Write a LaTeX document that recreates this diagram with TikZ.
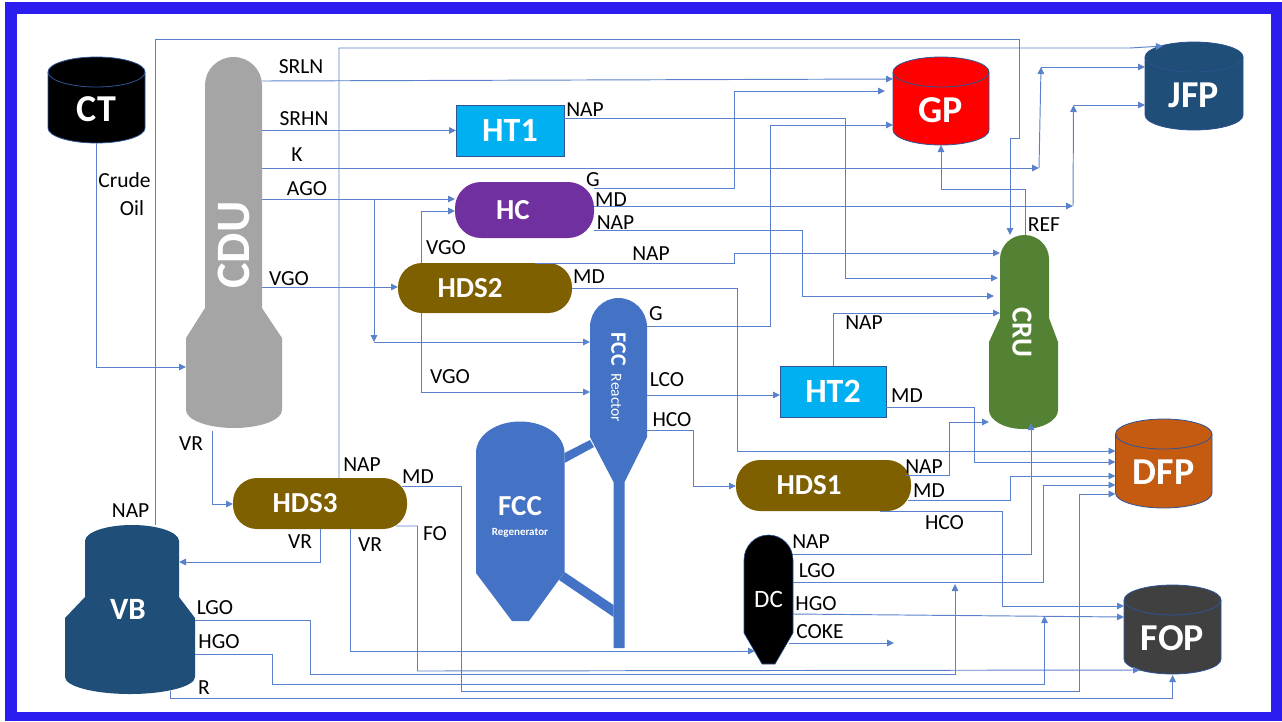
\documentclass[tikz,border=0pt]{standalone}
\usepackage{fontspec}
\usepackage{graphicx}
\setmainfont{Carlito}
\usetikzlibrary{arrows.meta}
\definecolor{framec}{HTML}{2B1CF0}
\definecolor{flowc}{HTML}{5A82CC}
\definecolor{rimc}{HTML}{2F5597}
\definecolor{cdugrey}{HTML}{A5A5A5}
\definecolor{htblue}{HTML}{00B0F0}
\definecolor{hcpurple}{HTML}{7030A0}
\definecolor{hdsbrown}{HTML}{7F6000}
\definecolor{crugreen}{HTML}{548235}
\definecolor{fccblue}{HTML}{4472C4}
\definecolor{navy}{HTML}{1F4E79}
\definecolor{dfporange}{HTML}{C55A11}
\definecolor{fopgrey}{HTML}{404040}
\newcommand\fz[1]{\fontsize{#1}{#1}\selectfont}
\newcommand\lowered[2]{\raisebox{-#1}{\smash{#2}}}
\tikzset{
  flow/.style={draw=flowc,line width=0.95pt},
  arr/.style={-{Triangle[length=7pt,width=6.5pt]}},
  unitbox/.style={inner sep=0pt,outer sep=0pt,text=white},
  capsule/.style={unitbox,fill=#1,rounded corners=24pt},
  boxunit/.style={unitbox,fill=htblue,draw=rimc,line width=0.9pt},
  lbl/.style={inner sep=0pt,text=black,font=\fz{21.5}}
}
% name, x0, x1, ytop, ybot, fill, rim, text
\newcommand\tank[8]{%
  \pgfmathsetmacro\tkmid{(#2+#3)/2}
  \pgfmathsetmacro\tkk{(#3-#2)/2*0.55}
  \pgfmathsetmacro\tkL{\tkmid-\tkk}
  \pgfmathsetmacro\tkR{\tkmid+\tkk}
  \pgfmathsetmacro\tkA{#4+15}
  \pgfmathsetmacro\tkAu{#4+6.75}
  \pgfmathsetmacro\tkAd{#4+23.25}
  \pgfmathsetmacro\tkAb{#4+30}
  \pgfmathsetmacro\tkB{#5-15}
  \pgfmathsetmacro\tkBd{#5-6.75}
  \path[fill=#6,draw=#7,line width=0.8pt]
    (#2,\tkA) .. controls (#2,\tkAu) and (\tkL,#4) .. (\tkmid,#4)
    .. controls (\tkR,#4) and (#3,\tkAu) .. (#3,\tkA)
    -- (#3,\tkB) .. controls (#3,\tkBd) and (\tkR,#5) .. (\tkmid,#5)
    .. controls (\tkL,#5) and (#2,\tkBd) .. (#2,\tkB) -- cycle;
  \draw[#7,line width=0.8pt] (#2,\tkA) .. controls (#2,\tkAd) and (\tkL,\tkAb) .. (\tkmid,\tkAb)
    .. controls (\tkR,\tkAb) and (#3,\tkAd) .. (#3,\tkA);
  \pgfmathsetmacro\tkw{#3-#2}
  \pgfmathsetmacro\tkh{#5-#4}
  \pgfmathsetmacro\tkc{(#4+#5)/2}
  \node[unitbox,minimum width=\tkw pt,minimum height=\tkh pt] (#1) at (\tkmid,\tkc)
    {\fz{38}\bfseries\lowered{42pt}{#8}};
}
% x0, x1, ytop, rytop, yshoulder, xw0, xw1, ywide, ybot, rybot, fill
\newcommand\tower[9]{%
  \pgfmathsetmacro\twmid{(#1+#2)/2}
  \pgfmathsetmacro\twk{(#2-#1)/2*0.55}
  \pgfmathsetmacro\twL{\twmid-\twk}
  \pgfmathsetmacro\twR{\twmid+\twk}
  \pgfmathsetmacro\twT{#3+#4}
  \pgfmathsetmacro\twTc{#3+#4*0.45}
  \def\twA{#1}\def\twB{#2}\def\twC{#3}\def\twD{#5}\def\twE{#6}\def\twF{#7}\def\twG{#8}\def\twH{#9}%
  \towerc
}
\newcommand\towerc[2]{%
  \pgfmathsetmacro\twmidw{(\twE+\twF)/2}
  \pgfmathsetmacro\twkw{(\twF-\twE)/2*0.55}
  \pgfmathsetmacro\twLw{\twmidw-\twkw}
  \pgfmathsetmacro\twRw{\twmidw+\twkw}
  \pgfmathsetmacro\twBt{\twH-#1}
  \pgfmathsetmacro\twBc{\twH-#1*0.45}
  \fill[#2] (\twA,\twT) .. controls (\twA,\twTc) and (\twL,\twC) .. (\twmid,\twC)
    .. controls (\twR,\twC) and (\twB,\twTc) .. (\twB,\twT)
    -- (\twB,\twD) -- (\twF,\twG) -- (\twF,\twBt)
    .. controls (\twF,\twBc) and (\twRw,\twH) .. (\twmidw,\twH)
    .. controls (\twLw,\twH) and (\twE,\twBc) .. (\twE,\twBt)
    -- (\twE,\twG) -- (\twA,\twD) -- cycle;
}
\begin{document}
\begin{tikzpicture}[x=1pt,y=-1pt]
\useasboundingbox (0,0) rectangle (1282,721);
\fill[white] (0,0) rectangle (1282,721);
\fill[framec] (5,2) rectangle (1282,721);
\fill[white] (17,14) rectangle (1271,712);

% ---------- tanks
\tank{ct}{48}{145}{57}{143}{black}{rimc}{CT}
\tank{gp}{893}{989}{57}{145}{red}{rimc}{GP}
\tank{jfp}{1145}{1243}{42}{130}{navy}{rimc!70!navy}{JFP}
\tank{dfp}{1115.5}{1212}{419}{508}{dfporange}{rimc}{DFP}
\tank{fop}{1124}{1221}{585}{674}{fopgrey}{rimc}{FOP}

% ---------- towers (bodies, then a box with the name)
\tower{205}{262}{57}{28}{308}{186}{282}{338}{428}{18}{cdugrey}
\node[unitbox,minimum width=57pt,minimum height=371pt] (cdu) at (233.5,245)
  {\rotatebox[origin=c]{90}{\fz{48}\bfseries CDU}};
\tower{1000}{1049}{235}{24}{318}{989}{1058}{342}{429}{19}{crugreen}
\node[unitbox,minimum width=49pt,minimum height=194pt] (cru) at (1022,332)
  {\rotatebox[origin=c]{-90}{\fz{29}\bfseries CRU}};
\tower{85}{179}{525}{16}{597}{65}{195}{618}{694}{17}{navy}
\node[unitbox,minimum width=134pt,minimum height=169pt] (vb) at (128,609.5)
  {\fz{31}\bfseries VB};

% ---------- FCC reactor and regenerator
\fill[fccblue] (564.5,453) -- (590,440) -- (594,447) -- (564.5,463) -- cycle;
\fill[fccblue] (564.5,572) -- (613.5,605) -- (613.5,617) -- (559,580) -- cycle;
\fill[fccblue] (590,327) .. controls (590,311) and (603,298) .. (618.5,298)
  .. controls (634,298) and (647,311) .. (647,327)
  -- (647,437) -- (624.5,482) -- (624.5,648) -- (613.5,648) -- (613.5,482) -- (590,437) -- cycle;
\node[unitbox,minimum width=57pt,minimum height=160pt] (fccr) at (618.5,377.5)
  {\rotatebox[origin=c]{-90}{\fz{22}\bfseries FCC\hspace{8pt}\fz{15.5}\mdseries Reactor}};
\fill[fccblue] (476,453) .. controls (476,435) and (496,421.5) .. (520,421.5)
  .. controls (544,421.5) and (564.5,435) .. (564.5,453)
  -- (564.5,572) -- (529,621) -- (512,621) -- (476,573) -- cycle;
\node[unitbox,minimum width=88pt,minimum height=200pt,align=center] (fccg) at (520,517)
  {\fz{29}\bfseries FCC\\[8pt]\fz{11}\bfseries Regenerator};

% ---------- delayed coker
\path[fill=black,draw=rimc,line width=0.6pt] (744,560) .. controls (744,546) and (755,535) .. (768.5,535)
  .. controls (782,535) and (793,546) .. (793,560)
  -- (793,633) -- (775,664) -- (762,664) -- (744,633) -- cycle;
\node[unitbox,minimum width=49pt,minimum height=129pt] (dc) at (768.5,599.5) {\fz{25}DC};

% ---------- simple units
\node[boxunit,minimum width=108pt,minimum height=51pt] (hta) at (510,130.5) {\fz{34}\bfseries HT1};
\node[boxunit,minimum width=106pt,minimum height=51pt] (htb) at (833,391.5) {\fz{34}\bfseries HT2};
\node[capsule=hcpurple,rounded corners=26pt,minimum width=139pt,minimum height=56pt] (hc) at (524.5,210)
  {\hspace*{-23pt}\fz{29}\bfseries HC};
\node[capsule=hdsbrown,minimum width=174pt,minimum height=50pt] (hdsb) at (485,288)
  {\hspace*{-30pt}\fz{29}\bfseries HDS2};
\node[capsule=hdsbrown,minimum width=174pt,minimum height=51pt] (hdsc) at (320,503.5)
  {\hspace*{-30pt}\fz{29}\bfseries HDS3};
\node[capsule=hdsbrown,minimum width=175pt,minimum height=51pt] (hdsa) at (823.5,485.5)
  {\hspace*{-29pt}\fz{29}\bfseries HDS1};

% ---------- junction coordinates
\coordinate (cduwide) at (186,367);
\coordinate (vbneck) at (179,562);
\coordinate (kjoin) at (1039,168);
\coordinate (kup) at (1041,67);
\coordinate (mdjoin) at (1073,206);
\coordinate (mdup) at (1073.5,105);
\coordinate (agojoin) at (374,199);
\coordinate (agodown) at (374,342);
\coordinate (jfpin) at (1163,46);

% ---------- connectors
\draw[flow,arr] (ct.south) |- (cduwide);
\draw[flow,arr] (155,0 |- vb.north) -- (155,39) -- (1019.6,39) -- (1019.6,138) -- (1010,138) -- (1010,0 |- cru.north);
\draw[flow,arr] (339,0 |- hdsc.north) -- (339,48) -- (1130,48) -- (jfpin);
\draw[flow,arr] (cdu.east |- 0,81) -- (gp.west |- 0,79);
\draw[flow,arr] (cdu.east |- hta.west) -- (hta.west);
\draw[flow,arr] (hta.east |- 0,118) -- (845,118) -- (845,278) -- (998,278);
\draw[flow,arr] (cdu.east |- kjoin) -- (kjoin);
\draw[flow,arr] (kjoin) -- (kup);
\draw[flow,arr] (kup) -- (jfp.west |- kup);
\draw[flow,arr] (cdu.east |- agojoin) -- (hc.west |- agojoin);
\draw[flow,arr] (agojoin) -- (agodown);
\draw[flow,arr] (agodown) -- (fccr.west |- agodown);
\draw[flow,arr] (421.6,0 |- hdsb.north) -- (421.6,211) -- (hc.west |- 0,211);
\draw[flow,arr] (421.6,0 |- hdsb.south) -- (421.6,392) -- (fccr.west |- 0,392);
\draw[flow,arr] (cdu.east |- 0,287) -- (hdsb.west |- 0,287);
\draw[flow,arr] (hc.east |- 0,188) -- (734,188) -- (734,91) -- ([xshift=-8pt]gp.west |- 0,91);
\draw[flow,arr] (hc.east |- mdjoin) -- (mdjoin);
\draw[flow,arr] (mdjoin) -- (mdup);
\draw[flow,arr] (mdup) -- (jfp.west |- mdup);
\draw[flow,arr] (hc.east |- 0,230) -- (802.4,230) -- (802.4,296) -- (994,296);
\draw[flow,arr] (535,0 |- hdsb.north) -- (734,263) -- (734,253) -- (1000,253);
\draw[flow,arr] (hdsb.east) -- (737,288) -- (737,451) -- (dfp.west |- 0,451);
\draw[flow,arr] (fccr.east |- 0,326) -- (770.6,326) -- (770.6,125) -- (gp.west |- 0,125);
\draw[flow,arr] (1025,0 |- cru.north) -- (1025,189) -- (941,189) -- (gp.south);
\draw[flow,arr] (htb.north) -- (833,313) -- (1000,313);
\draw[flow,arr] (fccr.east |- 0,395) -- (htb.west |- 0,395);
\draw[flow,arr] (htb.east |- 0,407) -- (974,407) -- (974,462) -- (dfp.west |- 0,462);
\draw[flow,arr] (fccr.east |- 0,430) -- (693,430) -- (693,486) -- (hdsa.west |- 0,486);
\draw[flow,arr] ([xshift=-5pt]hdsa.east |- 0,475) -- (949,475) -- (949,422) -- (989,422);
\draw[flow,arr] ([xshift=-3pt]hdsa.east |- 0,500) -- (1010,500) -- (1010,476) -- (dfp.west |- 0,476);
\draw[flow,arr] (880,0 |- hdsa.south) -- (1002.4,511) -- (1002.4,606) -- (fop.west |- 0,606);
\draw[flow,arr] (dc.east |- 0,554) -- (1031,554) -- (1031,423);
\draw[flow,arr] (dc.east |- 0,582) -- (1043.7,582) -- (1043.7,485) -- (dfp.west |- 0,485);
\draw[flow,arr] (dc.east |- 0,614) -- (fop.west |- 0,617);
\coordinate (cokeend) at (894,643);
\draw[flow,arr] ([xshift=-4pt]dc.east |- cokeend) -- (cokeend);
\draw[flow,arr] (320,0 |- hdsc.south) -- (320,562) -- (vbneck);
\draw[flow,arr] (350,0 |- hdsc.south) -- (350,651) -- ([xshift=11pt]dc.west |- 0,651);
\draw[flow,arr] (396,526) -- (417.5,526) -- (417.5,671) -- (1140,670);
\draw[flow,arr] (402,486) -- (461,486) -- (461,691) -- (1079,691) -- (1079,494) -- (dfp.west |- 0,494);
\draw[flow,arr] (vb.east |- 0,620) -- (310.6,620) -- (310.6,674) -- (955,674) -- (955,584);
\draw[flow,arr] (vb.east |- 0,654) -- (272.6,654) -- (272.6,684) -- (1044.5,684) -- (1044.5,616);
\draw[flow,arr] (170,691) -- (170,698) -- (1172.6,698) -- (1172.6,675);
\draw[flow,arr] (212,0 |- cdu.south) -- (212,504) -- (hdsc.west |- 0,504);

% ---------- labels
\node[lbl] (t1) at (301,67) {SRLN};
\node[lbl] (t2) at (304,119) {SRHN};
\node[lbl] (t3) at (297,155) {K};
\node[lbl] (t4) at (307,189) {AGO};
\node[lbl] (t5) at (289,279) {VGO};
\node[lbl] (t6) at (124.5,180) {Crude};
\node[lbl] (t7) at (132,208) {Oil};
\node[lbl] (t8) at (585,110) {NAP};
\node[lbl] (t9) at (593,180) {G};
\node[lbl] (t10) at (611,200) {MD};
\node[lbl] (t11) at (615.5,223) {NAP};
\node[lbl] (t12) at (446,248) {VGO};
\node[lbl] (t13) at (651,254) {NAP};
\node[lbl] (t14) at (589,277) {MD};
\node[lbl] (t15) at (656,314) {G};
\node[lbl] (t16) at (864,323) {NAP};
\node[lbl] (t17) at (1044,225) {REF};
\node[lbl] (t18) at (450,377) {VGO};
\node[lbl] (t19) at (191,444) {VR};
\node[lbl] (t20) at (362,465) {NAP};
\node[lbl] (t21) at (418,477) {MD};
\node[lbl] (t22) at (130.6,511) {NAP};
\node[lbl] (t23) at (300,542) {VR};
\node[lbl] (t24) at (370,545) {VR};
\node[lbl] (t25) at (435,534) {FO};
\node[lbl] (t26) at (215,608) {LGO};
\node[lbl] (t27) at (219,642) {HGO};
\node[lbl] (t28) at (204,688) {R};
\node[lbl] (t29) at (667,380) {LCO};
\node[lbl] (t30) at (672,420) {HCO};
\node[lbl] (t31) at (907,396) {MD};
\node[lbl] (t32) at (924,467) {NAP};
\node[lbl] (t33) at (929,491) {MD};
\node[lbl] (t34) at (944.5,523) {HCO};
\node[lbl] (t35) at (811,542) {NAP};
\node[lbl] (t36) at (817,571) {LGO};
\node[lbl] (t37) at (816,604) {HGO};
\node[lbl] (t38) at (820,632) {COKE};
\end{tikzpicture}
\end{document}
